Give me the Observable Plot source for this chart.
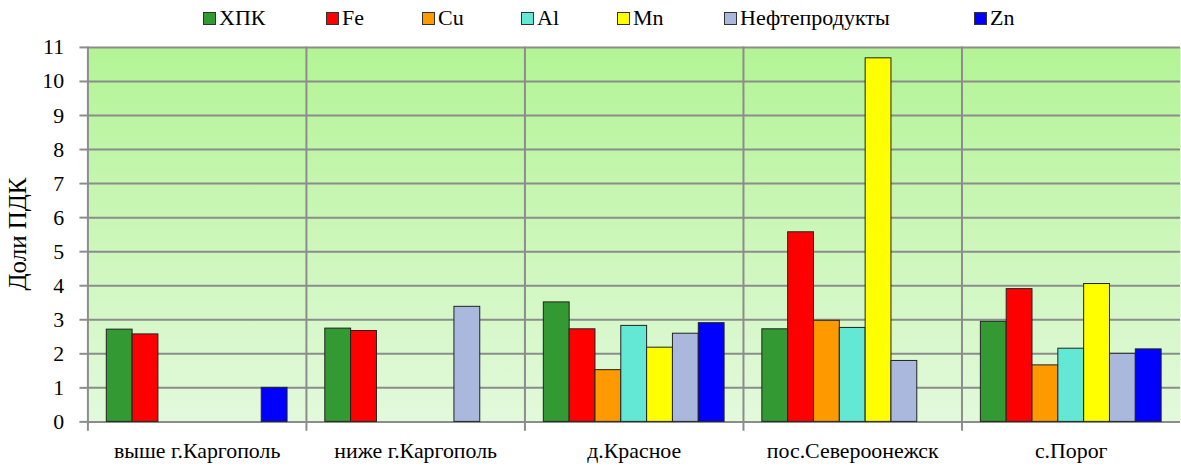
<!DOCTYPE html>
<html>
<head>
<meta charset="utf-8">
<script src="https://cdn.jsdelivr.net/npm/d3@7"></script>
<script src="https://cdn.jsdelivr.net/npm/@observablehq/plot@0.6"></script>
<style>
  html, body { margin: 0; padding: 0; background: #fff; overflow: hidden; }
  #wrap { width: 1181px; height: 470px; overflow: hidden; position: relative; color: #000; font-family: "Liberation Serif", "Times New Roman", serif; }
  #legend { height: 36px; position: relative; display: flex; align-items: center; padding-left: 203px; font-size: 22px; }
  .item { display: flex; align-items: center; flex: none; }
  .sw { width: 11px; height: 11px; border: 1px solid #333; margin-right: 3px; flex: none; }
  #ytitle { position: absolute; left: 18px; top: 234px; transform: translate(-50%, -50%) rotate(-90deg); white-space: nowrap; font-size: 25px; }
  svg { display: block; }
</style>
</head>
<body>
<div id="wrap">
  <div id="legend"></div>
  <div id="chart"></div>
  <div id="ytitle"></div>
</div>
<script>
const categories = ["выше г.Каргополь", "ниже г.Каргополь", "д.Красное", "пос.Североонежск", "с.Порог"];
const seriesNames = ["ХПК", "Fe", "Cu", "Al", "Mn", "Нефтепродукты", "Zn"];
const seriesColors = ["#339933", "#ff0000", "#ff9900", "#63e8d6", "#ffff00", "#aab8de", "#0000ff"];
const hpk = [2.71, 2.74, 3.51, 2.72, 2.94];
const fe = [2.57, 2.67, 2.72, 5.57, 3.90];
const cu = [null, null, 1.52, 2.97, 1.66];
const al = [null, null, 2.82, 2.76, 2.15];
const mn = [null, null, 2.18, 10.68, 4.05];
const oil = [null, 3.38, 2.59, 1.79, 2.00];
const zn = [1.00, null, 2.90, null, 2.13];
const yTicks = [0, 1, 2, 3, 4, 5, 6, 7, 8, 9, 10, 11];
const yTitle = "Доли ПДК";

// layout only: width of each legend slot in pixels
const legendSlotWidths = [123, 96, 99, 96, 107, 250, 60];

const seriesValues = [hpk, fe, cu, al, mn, oil, zn];
const data = [];
categories.forEach((c, i) => {
  seriesNames.forEach((s, j) => {
    const v = seriesValues[j][i];
    if (v != null) data.push({category: c, series: s, value: v});
  });
});

// legend
const legend = d3.select("#legend");
seriesNames.forEach((s, j) => {
  const it = legend.append("div").attr("class", "item").style("width", legendSlotWidths[j] + "px");
  it.append("div").attr("class", "sw").style("background", seriesColors[j]);
  it.append("span").text(s);
});
d3.select("#ytitle").text(yTitle);

const grid = "#8c8c8c";
const chart = Plot.plot({
  width: 1189,
  height: 434,
  marginTop: 11,
  marginBottom: 46,
  marginLeft: 87,
  marginRight: 1,
  style: {fontFamily: "'Liberation Serif', 'Times New Roman', serif", fontSize: "22px", color: "#000", background: "transparent", overflow: "visible"},
  fx: {domain: categories, padding: 0, label: null},
  x: {domain: seriesNames, paddingInner: 0, paddingOuter: 0.73, axis: null},
  y: {domain: [0, 11], label: null},
  color: {domain: seriesNames, range: seriesColors},
  marks: [
    Plot.frame({fill: "url(#bgGrad)", stroke: null}),
    Plot.ruleY(yTicks, {stroke: grid, strokeWidth: 2}),
    Plot.frame({anchor: "left", stroke: grid, strokeWidth: 2, insetBottom: -8}),
    Plot.barY(data, {fx: "category", x: "series", y: "value", fill: "series", stroke: "#222", strokeWidth: 1}),
    Plot.axisY({ticks: yTicks, tickSize: 8, tickPadding: 16, stroke: grid, strokeWidth: 2, fontSize: 22, fill: "#000", label: null}),
    Plot.axisFx({anchor: "bottom", tickSize: 0, tickPadding: 21, fontSize: 22, fill: "#000", label: null})
  ]
});

const defs = d3.select(chart).insert("defs", ":first-child");
const g = defs.append("linearGradient").attr("id", "bgGrad").attr("x1", 0).attr("y1", 0).attr("x2", 0).attr("y2", 1);
g.append("stop").attr("offset", "0%").attr("stop-color", "#b3f495");
g.append("stop").attr("offset", "100%").attr("stop-color", "#e3f9dc");

document.getElementById("chart").appendChild(chart);
</script>
</body>
</html>
